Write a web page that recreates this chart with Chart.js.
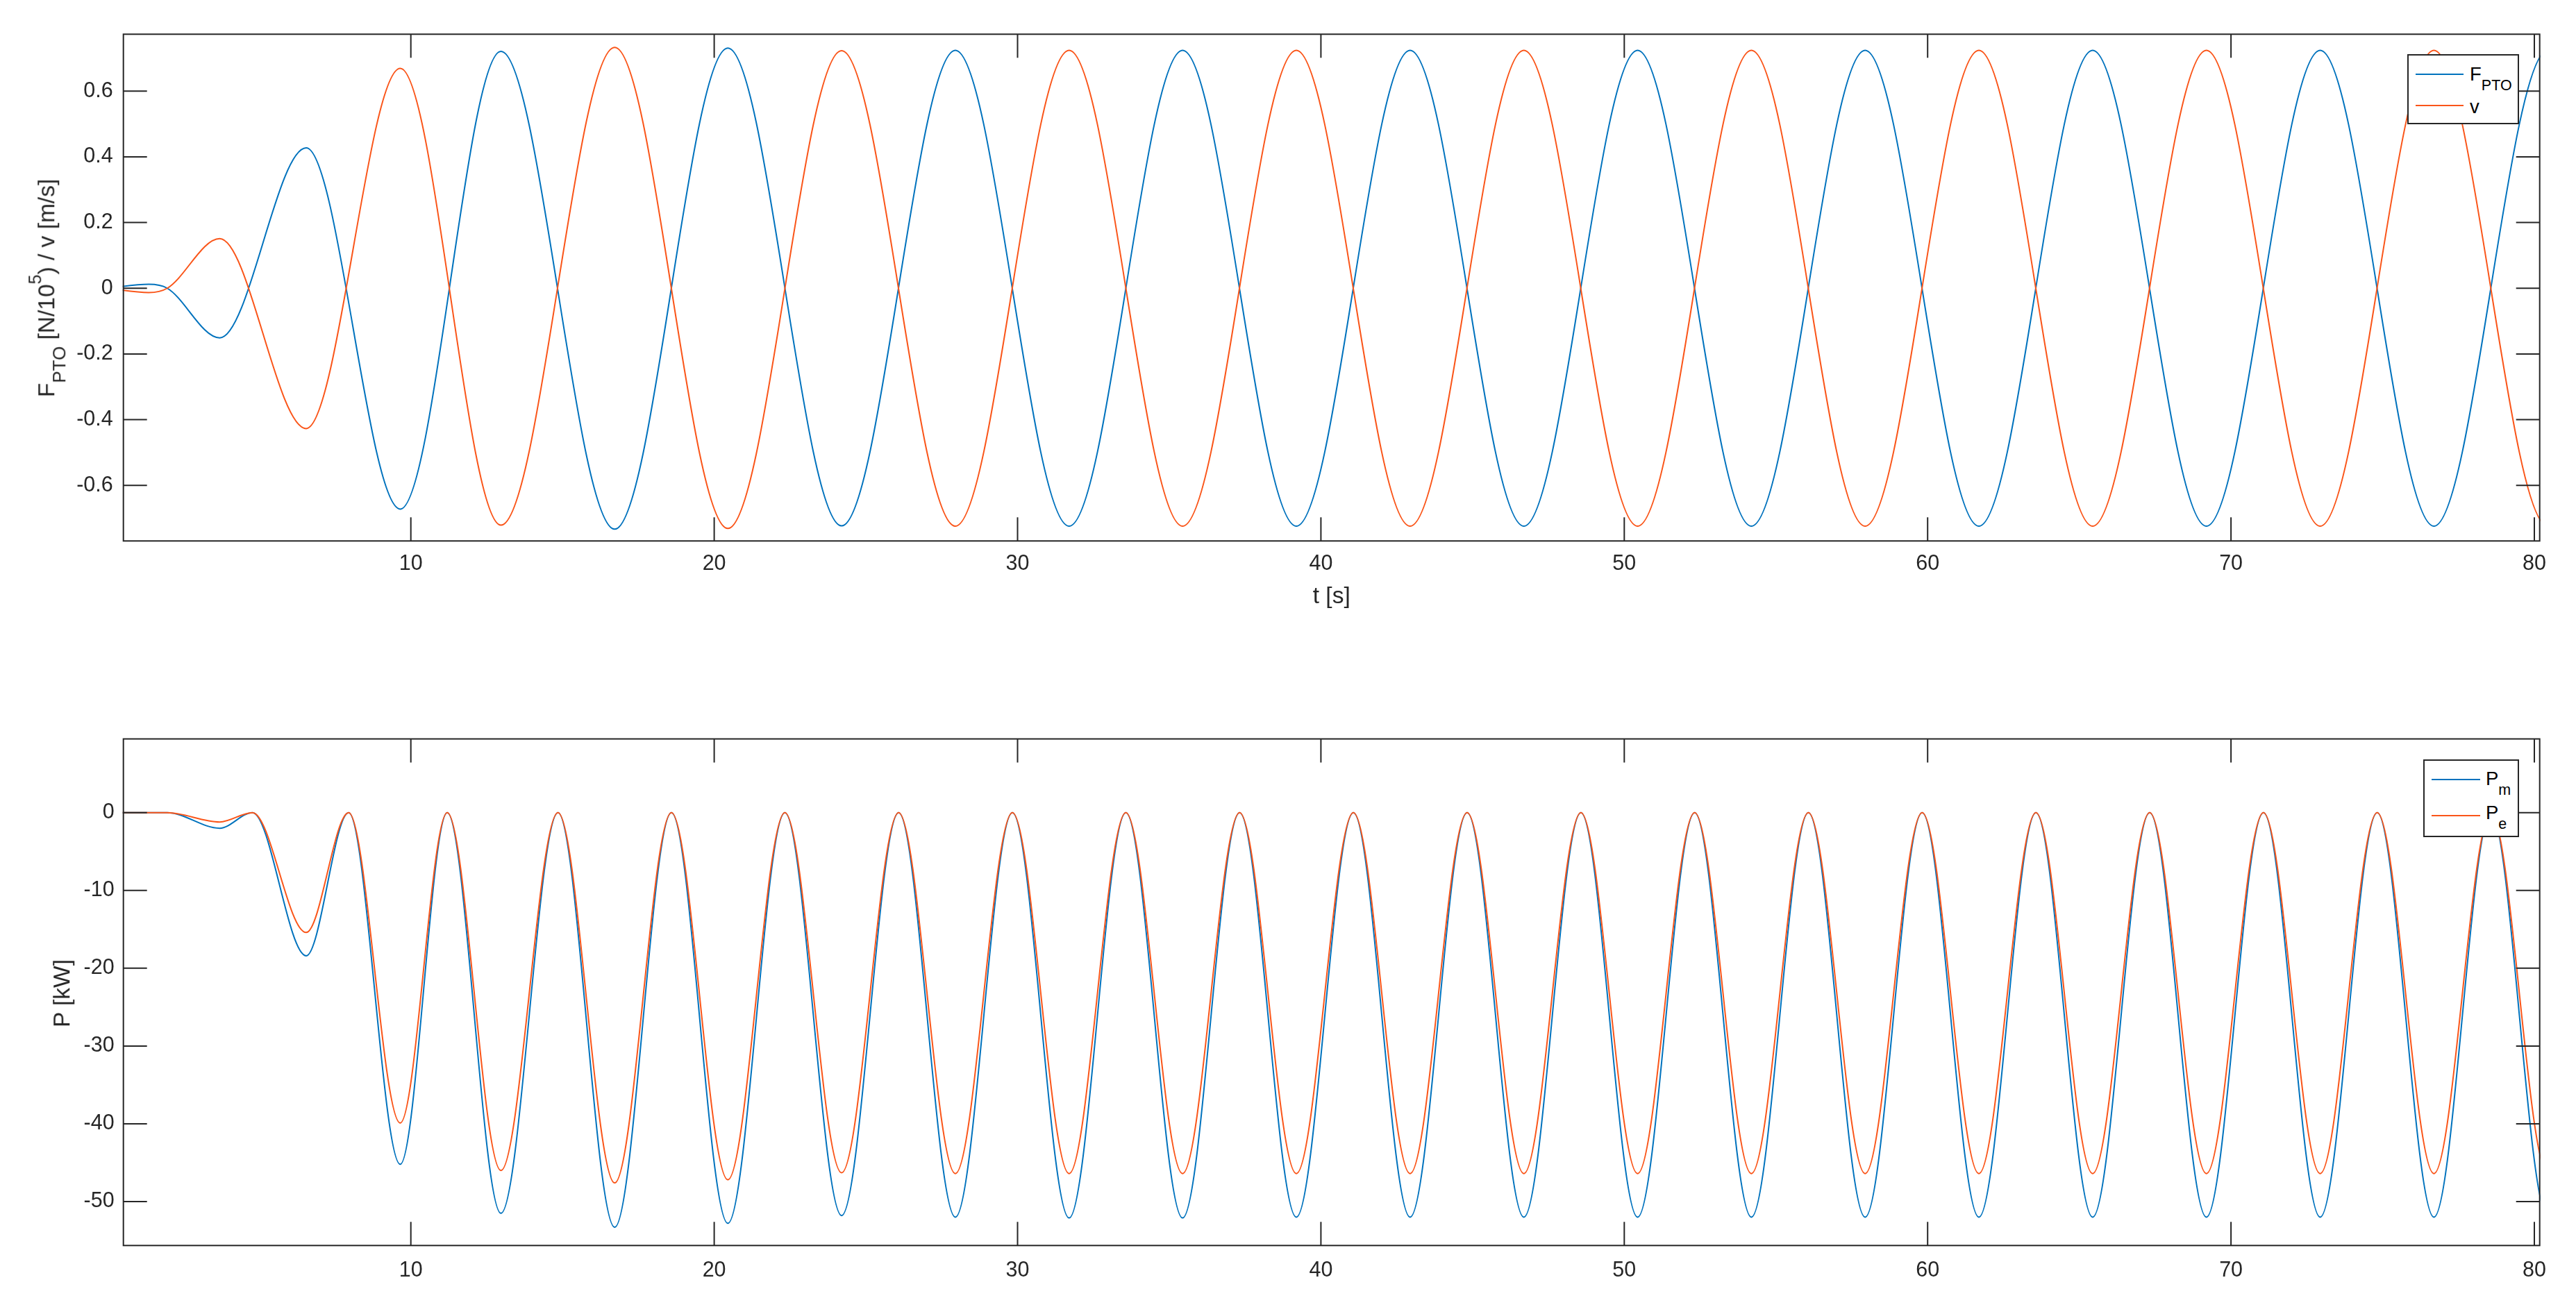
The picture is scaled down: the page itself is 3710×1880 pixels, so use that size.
<!DOCTYPE html>
<html>
<head>
<meta charset="utf-8">
<title>F_PTO / v and P</title>
<script src="https://cdn.jsdelivr.net/npm/chart.js@4.4.1/dist/chart.umd.min.js"></script>
<style>
  html, body { margin: 0; padding: 0; background: #fff; }
  body { width: 3710px; height: 1880px; position: relative; overflow: hidden;
         font-family: 'Liberation Sans', Arial, Helvetica, sans-serif; color: #262626; }
  canvas { position: absolute; left: 0; }
  #topChart { top: 0; }
  #bottomChart { top: 1000px; }
  .ylabel { position: absolute; font-size: 33.5px; line-height: 1; white-space: nowrap;
            transform: translate(-50%, -50%) rotate(-90deg); z-index: 2; }
  .ylabel .sub { font-size: 26px; position: relative; top: 16px; }
  .ylabel .sup { font-size: 25px; position: relative; top: -19px; }
  .legend-box { position: absolute; background: #fff; border: 2px solid #262626; box-sizing: border-box; z-index: 2; }
  .legend-line { position: absolute; height: 2px; z-index: 3; }
  .legend-txt { position: absolute; font-size: 27.5px; line-height: 1; white-space: nowrap; color: #000; z-index: 3; }
  .legend-txt .sub { font-size: 21.5px; position: relative; top: 14px; }
</style>
</head>
<body>
<canvas id="topChart" width="3710" height="940" style="width:3710px;height:940px"></canvas>
<canvas id="bottomChart" width="3710" height="880" style="width:3710px;height:880px"></canvas>

<!-- axis labels with sub/superscripts -->
<div class="ylabel" style="left:66.5px; top:415px;">F<span class="sub">PTO</span> [N/10<span class="sup">5</span>) / v [m/s]</div>
<div class="ylabel" style="left:88.5px; top:1431px;">P [kW]</div>

<!-- legend, top panel -->
<div class="legend-box" style="left:3467px; top:78px; width:161px; height:101px;"></div>
<div class="legend-line" style="left:3479px; top:106px; width:69px; background:#0072BD;"></div>
<div class="legend-txt" style="left:3557px; top:93px;">F<span class="sub">PTO</span></div>
<div class="legend-line" style="left:3479px; top:151px; width:69px; background:#FA5519;"></div>
<div class="legend-txt" style="left:3557px; top:140px;">v</div>

<!-- legend, bottom panel -->
<div class="legend-box" style="left:3490px; top:1094px; width:138px; height:112px;"></div>
<div class="legend-line" style="left:3502px; top:1122px; width:70px; background:#0072BD;"></div>
<div class="legend-txt" style="left:3580px; top:1108px;">P<span class="sub">m</span></div>
<div class="legend-line" style="left:3502px; top:1174px; width:70px; background:#FA5519;"></div>
<div class="legend-txt" style="left:3580px; top:1157px;">P<span class="sub">e</span></div>

<script>
// --- Data ---
// times of the extrema of F_PTO / v (the last two lie past the right edge, so the curve runs out cleanly)
const tExt = [0, 1.36, 1.97, 3.70, 6.55, 9.65, 12.97, 16.72, 20.45, 24.20, 27.95, 31.70, 35.44,
              39.19, 42.94, 46.69, 50.44, 54.19, 57.94, 61.69, 65.44, 69.19, 72.94, 76.69, 80.44, 84.19];
const fPto = [0, 0.012, 0, -0.151, 0.427, -0.672, 0.721, -0.733, 0.731, -0.723, 0.724, -0.724, 0.724,
              -0.724, 0.724, -0.724, 0.724, -0.724, 0.724, -0.724, 0.724, -0.724, 0.724, -0.724, 0.724, -0.724];
const vel  = [0, -0.013, 0, 0.151, -0.427, 0.669, -0.721, 0.733, -0.731, 0.723, -0.724, 0.724, -0.724,
              0.724, -0.724, 0.724, -0.724, 0.724, -0.724, 0.724, -0.724, 0.724, -0.724, 0.724, -0.724, 0.724];

// power: minima at the extrema above, zero at the crossings in between
const tPow = [0, 1.97, 3.70, 4.78, 6.55, 7.95, 9.65, 11.20, 12.97, 14.85, 16.72, 18.59, 20.45,
              22.33, 24.20, 26.08, 27.95, 29.83, 31.70, 33.57, 35.44, 37.32, 39.19, 41.07, 42.94,
              44.82, 46.69, 48.57, 50.44, 52.32, 54.19, 56.07, 57.94, 59.82, 61.69, 63.57, 65.44,
              67.32, 69.19, 71.07, 72.94, 74.82, 76.69, 78.57, 80.44, 82.32];
const pMech = [0, 0, -2.0, 0, -18.4, 0, -45.2, 0, -51.5, 0, -53.3, 0, -52.8,
               0, -51.8, 0, -52.0, 0, -52.1, 0, -52.1, 0, -52.0, 0, -52.0,
               0, -52.0, 0, -52.0, 0, -52.0, 0, -52.0, 0, -52.0, 0, -52.0,
               0, -52.0, 0, -52.0, 0, -52.0, 0, -52.0, 0];
const pElec = [0, 0, -1.2, 0, -15.4, 0, -39.9, 0, -46.0, 0, -47.6, 0, -47.2,
               0, -46.3, 0, -46.4, 0, -46.4, 0, -46.4, 0, -46.4, 0, -46.4,
               0, -46.4, 0, -46.4, 0, -46.4, 0, -46.4, 0, -46.4, 0, -46.4,
               0, -46.4, 0, -46.4, 0, -46.4, 0, -46.4, 0];

const xTicks = [10, 20, 30, 40, 50, 60, 70, 80];
const yTicksTop = [-0.6, -0.4, -0.2, 0, 0.2, 0.4, 0.6];
const yTicksBottom = [-50, -40, -30, -20, -10, 0];

// axis limits
const xLim = [0.524, 80.176];
const yLimTop = [-0.769, 0.773];
const yLimBottom = [-55.65, 9.48];

// --- Styles ---
const BLUE = '#0072BD';
const ORANGE = '#FA5519';
const AXIS = '#262626';
const TICK_LEN = 34;
const FAMILY = "'Liberation Sans', Arial, Helvetica, sans-serif";

Chart.defaults.font.family = FAMILY;

function toPoints(xs, ys) {
    return xs.map((x, i) => ({ x: x, y: ys[i] }));
}

// --- Box around the axes with inward tick marks (MATLAB style) ---
const axesBox = {
    id: 'axesBox',
    afterDraw(chart) {
        const { ctx, chartArea: a, scales: { x, y } } = chart;
        ctx.save();
        ctx.strokeStyle = AXIS;
        ctx.lineWidth = 2;
        ctx.beginPath();
        x.ticks.forEach(tick => {
            const px = x.getPixelForValue(tick.value);
            ctx.moveTo(px, a.bottom); ctx.lineTo(px, a.bottom - TICK_LEN);
            ctx.moveTo(px, a.top); ctx.lineTo(px, a.top + TICK_LEN);
        });
        y.ticks.forEach(tick => {
            const py = y.getPixelForValue(tick.value);
            ctx.moveTo(a.left, py); ctx.lineTo(a.left + TICK_LEN, py);
            ctx.moveTo(a.right, py); ctx.lineTo(a.right - TICK_LEN, py);
        });
        ctx.stroke();
        ctx.strokeRect(a.left, a.top, a.right - a.left, a.bottom - a.top);
        ctx.restore();
    }
};

// --- Reusable chart builder ---
function makeChart(canvasId, cfg) {
    return new Chart(document.getElementById(canvasId), {
        type: 'line',
        data: {
            datasets: [
                { label: cfg.names[0], data: cfg.series[0], borderColor: BLUE, order: 1 },
                { label: cfg.names[1], data: cfg.series[1], borderColor: ORANGE, order: 0 }
            ]
        },
        options: {
            responsive: false,
            animation: false,
            devicePixelRatio: 1,
            layout: { padding: { left: 0, right: 52.3, top: cfg.padTop, bottom: 0 } },
            plugins: { legend: { display: false }, tooltip: { enabled: false } },
            elements: {
                point: { radius: 0 },
                line: { borderWidth: 2, cubicInterpolationMode: 'monotone', fill: false }
            },
            scales: {
                x: {
                    type: 'linear',
                    bounds: 'data',
                    grid: { display: false, drawTicks: false },
                    border: { display: false },
                    afterDataLimits: s => { s.min = xLim[0]; s.max = xLim[1]; },
                    afterBuildTicks: s => { s.ticks = xTicks.map(v => ({ value: v })); },
                    afterFit: s => { s.height = cfg.xHeight; },
                    ticks: { autoSkip: false, maxRotation: 0, padding: cfg.xPad, color: AXIS, font: { size: 30.5 } },
                    title: cfg.xTitle
                },
                y: {
                    type: 'linear',
                    min: cfg.yLim[0],
                    max: cfg.yLim[1],
                    grid: { display: false, drawTicks: false },
                    border: { display: false },
                    afterBuildTicks: s => { s.ticks = cfg.yTicks.map(v => ({ value: v })); },
                    afterFit: s => { s.width = 177.7; },
                    ticks: { autoSkip: false, padding: cfg.yPad, color: AXIS, font: { size: 30.5 } }
                }
            }
        },
        plugins: [axesBox]
    });
}

// --- Top panel: F_PTO and v ---
makeChart('topChart', {
    names: ['F_PTO', 'v'],
    series: [toPoints(tExt, fPto), toPoints(tExt, vel)],
    padTop: 49.3,
    xHeight: 940 - 779.3,
    xPad: 14.6,
    yPad: 15,
    yLim: yLimTop,
    yTicks: yTicksTop,
    xTitle: { display: true, text: 't [s]', color: AXIS, font: { size: 33.5 }, padding: { top: 0, bottom: 60 } }
});

// --- Bottom panel: P_m and P_e ---
makeChart('bottomChart', {
    names: ['P_m', 'P_e'],
    series: [toPoints(tPow, pMech), toPoints(tPow, pElec)],
    padTop: 64.5,
    xHeight: 880 - 794.3,
    xPad: 17.7,
    yPad: 13,
    yLim: yLimBottom,
    yTicks: yTicksBottom,
    xTitle: { display: false }
});
</script>
</body>
</html>
